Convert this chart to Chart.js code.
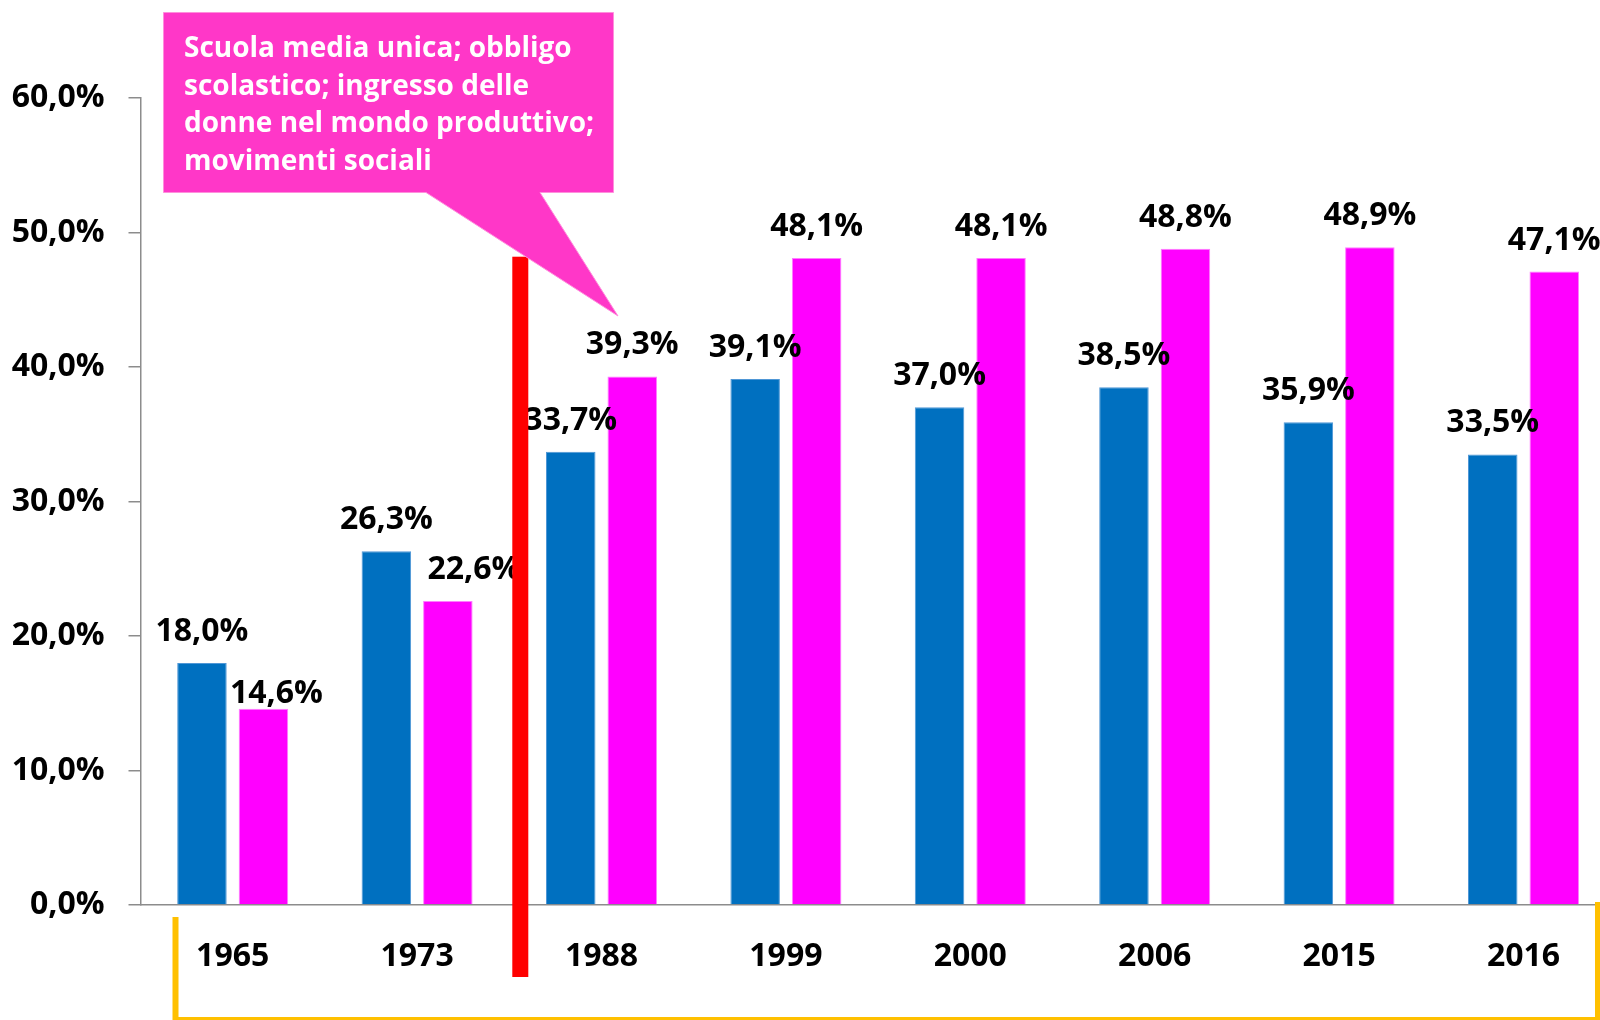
<!DOCTYPE html>
<html>
<head>
  <meta charset="utf-8">
  <title>Scuola media unica</title>
  <script src="https://cdn.jsdelivr.net/npm/chart.js"></script>
  <style>
    html, body {
      margin: 0;
      padding: 0;
      background: #ffffff;
      overflow: hidden;
    }
    canvas {
      display: block;
    }
  </style>
</head>
<body>
  <canvas id="chartAnni" width="1620" height="1020"></canvas>

  <script>
    // 1. Dati
    const anni = ['1965', '1973', '1988', '1999', '2000', '2006', '2015', '2016'];
    const serieBlu = [18.0, 26.3, 33.7, 39.1, 37.0, 38.5, 35.9, 33.5];
    const serieRosa = [14.6, 22.6, 39.3, 48.1, 48.1, 48.8, 48.9, 47.1];
    const tickY = [0, 10, 20, 30, 40, 50, 60];
    const testoNota = [
      'Scuola media unica; obbligo',
      'scolastico; ingresso delle',
      'donne nel mondo produttivo;',
      'movimenti sociali'
    ];

    const FONT = '"Open Sans", "Noto Sans", sans-serif';
    const PESO = 'bold';
    const formato = v => v.toFixed(1).replace('.', ',') + '%';

    // 2. Etichette sopra le barre
    const etichette = {
      id: 'etichette',
      afterDatasetsDraw(chart) {
        const ctx = chart.ctx;
        ctx.save();
        ctx.font = PESO + ' 32px ' + FONT;
        ctx.fillStyle = '#000000';
        ctx.textAlign = 'center';
        ctx.textBaseline = 'alphabetic';
        chart.data.datasets.forEach((ds, i) => {
          const sp = ds.spostamenti || {};
          chart.getDatasetMeta(i).data.forEach((bar, j) => {
            const d = sp[j] || [0, 0];
            ctx.fillText(formato(ds.data[j]), bar.x + d[0], bar.y - 22 + d[1]);
          });
        });
        ctx.restore();
      }
    };

    // 3. Linea rossa, fumetto e parentesi arancione
    const annotazioni = {
      id: 'annotazioni',
      afterDraw(chart) {
        const { ctx, chartArea, scales: { x, y } } = chart;
        ctx.save();

        // linea rossa tra 1973 e 1988
        const xm = (x.getPixelForValue(1) + x.getPixelForValue(2)) / 2;
        const yTop = y.getPixelForValue(48.2);
        ctx.fillStyle = '#ff0000';
        ctx.fillRect(xm + 3, yTop, 16, chartArea.bottom + 72 - yTop);

        // fumetto
        ctx.fillStyle = '#ff37c8';
        ctx.strokeStyle = '#ff8fdc';
        ctx.lineWidth = 1;
        ctx.beginPath();
        ctx.moveTo(163.5, 12.5);
        ctx.lineTo(613.5, 12.5);
        ctx.lineTo(613.5, 192.5);
        ctx.lineTo(540, 192.5);
        ctx.lineTo(618, 316);
        ctx.lineTo(426, 192.5);
        ctx.lineTo(163.5, 192.5);
        ctx.closePath();
        ctx.fill();
        ctx.stroke();

        ctx.fillStyle = '#ffffff';
        ctx.font = 'bold 28px ' + FONT;
        ctx.textAlign = 'left';
        ctx.textBaseline = 'alphabetic';
        testoNota.forEach((riga, i) => ctx.fillText(riga, 184, 57 + i * 37.7));

        // parentesi arancione sotto gli anni
        ctx.strokeStyle = '#ffc000';
        ctx.lineWidth = 6;
        ctx.beginPath();
        ctx.moveTo(175.5, 917);
        ctx.lineTo(175.5, 1020);
        ctx.lineTo(1598, 1020);
        ctx.lineTo(1598, 902);
        ctx.stroke();

        ctx.restore();
      }
    };

    // 4. Grafico
    const chart = new Chart(document.getElementById('chartAnni'), {
      type: 'bar',
      data: {
        labels: anni,
        datasets: [
          {
            label: 'Serie blu',
            data: serieBlu,
            backgroundColor: '#0070c0',
            borderColor: '#4f97d6',
            borderWidth: 1
          },
          {
            label: 'Serie rosa',
            data: serieRosa,
            backgroundColor: '#ff00ff',
            borderColor: '#ff7cff',
            borderWidth: 1,
            spostamenti: { 0: [13, 16], 1: [26, 0] }
          }
        ]
      },
      options: {
        responsive: false,
        animation: false,
        categoryPercentage: 0.667,
        barPercentage: 0.805,
        layout: { padding: { top: 98, right: 4.3, left: 0, bottom: 0 } },
        plugins: {
          legend: { display: false },
          tooltip: { enabled: false }
        },
        scales: {
          x: {
            grid: { display: false },
            border: { display: true, color: '#8c8c8c', width: 1.5 },
            ticks: {
              color: '#000000',
              font: { family: FONT, size: 32, weight: PESO },
              padding: 25,
              maxRotation: 0,
              autoSkip: false
            },
            afterFit: s => { s.height = 115; }
          },
          y: {
            min: tickY[0],
            max: tickY[tickY.length - 1],
            grid: { drawOnChartArea: false, tickLength: 12, color: '#8c8c8c', lineWidth: 1.5 },
            border: { display: true, color: '#8c8c8c', width: 1.5 },
            ticks: {
              color: '#000000',
              font: { family: FONT, size: 32, weight: PESO },
              padding: 24,
              callback: v => formato(v)
            },
            afterBuildTicks: s => { s.ticks = tickY.map(v => ({ value: v })); },
            afterFit: s => { s.width = 140.5; }
          }
        }
      },
      plugins: [etichette, annotazioni]
    });
  </script>
</body>
</html>
